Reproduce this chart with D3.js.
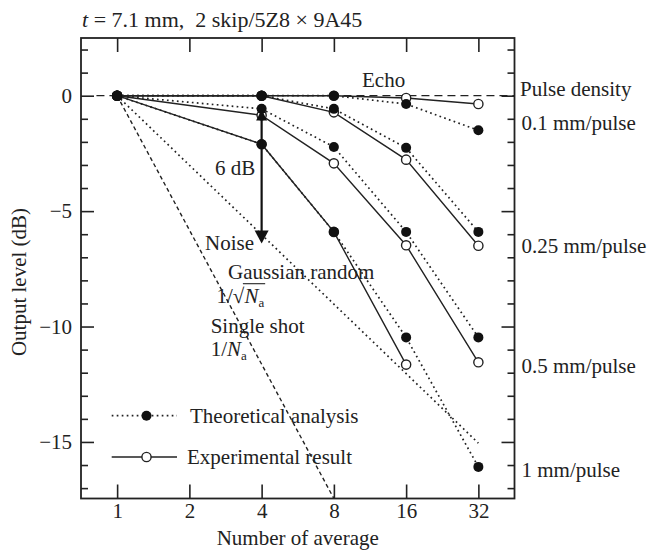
<!DOCTYPE html>
<html>
<head>
<meta charset="utf-8">
<script src="https://cdn.jsdelivr.net/npm/d3@7"></script>
<style>
  html, body { margin: 0; padding: 0; background: #fff; }
  svg { display: block; }
  text { font-family: "Liberation Serif", "Times New Roman", serif; fill: #222; }
</style>
</head>
<body>
<svg id="chart" width="651" height="551"></svg>
<script>
// ---------------- data ----------------
const counts = [1, 4, 8, 16, 32];                 // number of average
const xTickValues = [1, 2, 4, 8, 16, 32];
const yLabelValues = [0, -5, -10, -15];
const densityLabels = ["0.1 mm/pulse", "0.25 mm/pulse", "0.5 mm/pulse", "1 mm/pulse"];
const densityLabelLevels = [-1.5, -6.8, -12, -16.5];   // dB level of each right-hand label baseline

// Theoretical analysis (dotted, filled markers), dB
const theo01  = [0, 0, 0, -0.36, -1.5];
const theo025 = [0, 0, -0.57, -2.26, -5.9];
const theo05  = [0, -0.57, -2.22, -5.9, -10.47];
const theo1   = [0, -2.1, -5.9, -10.47, -16.08];
// Experimental result (solid, open markers), dB
const exp01  = [0, 0, 0, -0.1, -0.36];
const exp025 = [0, 0, -0.72, -2.77, -6.5];
const exp05  = [0, -0.85, -2.93, -6.48, -11.55];
const exp1   = [0, -2.1, -5.9, -11.65, null];

// Reference curves
const gaussianN = [1, 32], gaussianDB = [0, -15.05];   // 1/sqrt(Na)
const singleN = [1, 8],   singleDB = [0, -17.45];      // 1/Na
const echoN = [0.82, 32 * Math.SQRT2], echoDB = [0, 0];

// ---------------- scales ----------------
const svg = d3.select("#chart");
const L = 81, R = 514.5, T = 38, B = 498.5;
const x = d3.scaleLog().base(2).domain([Math.SQRT1_2, 32 * Math.SQRT2]).range([L, R]);
const y = d3.scaleLinear().domain([-17.45, 2.5]).range([B, T]);

svg.append("defs").append("clipPath").attr("id", "clip")
  .append("rect").attr("x", L).attr("y", T).attr("width", R - L).attr("height", B - T);

// ---------------- axes / frame ----------------
const minorY = d3.range(-17, 3).filter(v => v % 5 !== 0);
const majorY = d3.range(-15, 3).filter(v => v % 5 === 0);

function noDomain(g) { g.select(".domain").remove(); g.selectAll(".tick line").attr("stroke", "#222").attr("stroke-width", 1.6); }

svg.append("g").attr("transform", `translate(${L},0)`)
  .call(d3.axisRight(y).tickValues(minorY).tickSize(7).tickFormat("")).call(noDomain);
svg.append("g").attr("transform", `translate(${L},0)`)
  .call(d3.axisRight(y).tickValues(majorY).tickSize(13).tickFormat("")).call(noDomain);
svg.append("g").attr("transform", `translate(${R},0)`)
  .call(d3.axisLeft(y).tickValues(minorY).tickSize(7).tickFormat("")).call(noDomain);
svg.append("g").attr("transform", `translate(${R},0)`)
  .call(d3.axisLeft(y).tickValues(majorY).tickSize(13).tickFormat("")).call(noDomain);

const yLab = svg.append("g").attr("transform", `translate(${L},0)`)
  .call(d3.axisLeft(y).tickValues(yLabelValues).tickSize(0).tickPadding(9)
    .tickFormat(d => d === 0 ? "0" : "\u2212" + Math.abs(d)));
yLab.select(".domain").remove();
yLab.selectAll("text").attr("font-size", 21).attr("font-family", "Liberation Serif").attr("fill", "#222");

svg.append("g").attr("transform", `translate(0,${B})`)
  .call(d3.axisTop(x).tickValues(xTickValues).tickSize(14).tickFormat("")).call(noDomain);
svg.append("g").attr("transform", `translate(0,${T})`)
  .call(d3.axisBottom(x).tickValues(xTickValues).tickSize(14).tickFormat("")).call(noDomain);
const xLab = svg.append("g").attr("transform", `translate(0,${B})`)
  .call(d3.axisBottom(x).tickValues(xTickValues).tickSize(0).tickPadding(5).tickFormat(d3.format("d")));
xLab.select(".domain").remove();
xLab.selectAll("text").attr("font-size", 21).attr("font-family", "Liberation Serif").attr("fill", "#222");

svg.append("rect").attr("x", L).attr("y", T).attr("width", R - L).attr("height", B - T)
  .attr("fill", "none").attr("stroke", "#222").attr("stroke-width", 1.8);

// ---------------- lines ----------------
const plot = svg.append("g").attr("clip-path", "url(#clip)");
const line = d3.line().defined(d => d[1] !== null).x(d => x(d[0])).y(d => y(d[1]));
const zipN = (ns, vs) => ns.map((n, i) => [n, vs[i]]);

const DOT = "1.7 3.3";
// echo line
plot.append("path").datum(zipN(echoN, echoDB)).attr("d", line)
  .attr("fill", "none").attr("stroke", "#222").attr("stroke-width", 1.3).attr("stroke-dasharray", "8 5");
// single shot
plot.append("path").datum(zipN(singleN, singleDB)).attr("d", line)
  .attr("fill", "none").attr("stroke", "#222").attr("stroke-width", 1.4).attr("stroke-dasharray", "4 3");
// gaussian
plot.append("path").datum(zipN(gaussianN, gaussianDB)).attr("d", line)
  .attr("fill", "none").attr("stroke", "#222").attr("stroke-width", 1.7).attr("stroke-dasharray", DOT);

const theoSeries = [theo01, theo025, theo05, theo1];
const expSeries = [exp01, exp025, exp05, exp1];

theoSeries.forEach(s => {
  plot.append("path").datum(zipN(counts, s)).attr("d", line)
    .attr("fill", "none").attr("stroke", "#222").attr("stroke-width", 1.7).attr("stroke-dasharray", DOT);
});
expSeries.forEach(s => {
  plot.append("path").datum(zipN(counts, s)).attr("d", line)
    .attr("fill", "none").attr("stroke", "#222").attr("stroke-width", 1.4);
});

// ---------------- markers ----------------
expSeries.forEach(s => {
  plot.selectAll(null).data(zipN(counts, s).filter(d => d[1] !== null)).enter().append("circle")
    .attr("cx", d => x(d[0])).attr("cy", d => y(d[1])).attr("r", 4.6)
    .attr("fill", "#fff").attr("stroke", "#222").attr("stroke-width", 1.4);
});
theoSeries.forEach(s => {
  plot.selectAll(null).data(zipN(counts, s)).enter().append("circle")
    .attr("cx", d => x(d[0])).attr("cy", d => y(d[1])).attr("r", 5)
    .attr("fill", "#111");
});

// ---------------- 6 dB arrow ----------------
const arrowN = 4, arrowTop = -0.6, arrowBottom = -6.4;
const ax = x(arrowN), ay1 = y(arrowTop), ay2 = y(arrowBottom);
svg.append("line").attr("x1", ax).attr("x2", ax).attr("y1", ay1 + 4).attr("y2", ay2 - 8)
  .attr("stroke", "#111").attr("stroke-width", 2.2);
svg.append("path").attr("d", `M${ax},${ay1} L${ax - 5.5},${ay1 + 11} L${ax + 5.5},${ay1 + 11} Z`).attr("fill", "#111");
svg.append("path").attr("d", `M${ax},${ay2} L${ax - 7},${ay2 - 13} L${ax + 7},${ay2 - 13} Z`).attr("fill", "#111");

// ---------------- legend ----------------
const FS = 21;
function legendRow(yy, dotted, filled, label) {
  svg.append("line").attr("x1", 111.7).attr("x2", 177).attr("y1", yy).attr("y2", yy)
    .attr("stroke", "#222").attr("stroke-width", dotted ? 1.7 : 1.4)
    .attr("stroke-dasharray", dotted ? DOT : null);
  svg.append("circle").attr("cx", 146.5).attr("cy", yy).attr("r", filled ? 5 : 4.6)
    .attr("fill", filled ? "#111" : "#fff").attr("stroke", filled ? "none" : "#222").attr("stroke-width", 1.4);
  svg.append("text").attr("x", filled ? 190 : 187).attr("y", yy + 7).attr("font-size", FS).text(label);
}
legendRow(415.7, true, true, "Theoretical analysis");
legendRow(457, false, false, "Experimental result");

// ---------------- texts ----------------
const title = svg.append("text").attr("x", 82).attr("y", 27).attr("font-size", 22).style("white-space", "pre");
title.append("tspan").attr("font-style", "italic").text("t");
title.append("tspan").text(" = 7.1 mm,  2 skip/5Z8 \u00d7 9A45");

svg.append("text").attr("x", 362).attr("y", 87).attr("font-size", FS).text("Echo");
svg.append("text").attr("x", 520).attr("y", 96).attr("font-size", FS).text("Pulse density");
densityLabels.forEach((t, i) => {
  svg.append("text").attr("x", 521.5).attr("y", y(densityLabelLevels[i]) + 0).attr("font-size", FS).text(t);
});

svg.append("text").attr("x", 215).attr("y", 175).attr("font-size", FS).text("6 dB");
svg.append("text").attr("x", 205).attr("y", 250).attr("font-size", FS).text("Noise");
svg.append("text").attr("x", 228).attr("y", 279).attr("font-size", FS).text("Gaussian random");

const sq = svg.append("text").attr("x", 216.5).attr("y", 302.7).attr("font-size", FS);
sq.append("tspan").text("1/\u221a");
sq.append("tspan").attr("font-style", "italic").text("N");
sq.append("tspan").attr("font-size", 13).attr("dy", 4).text("a");
{
  const node = sq.node();
  const xe = node.getEndPositionOfChar(4).x;
  const xr = node.getEndPositionOfChar(2).x;
  svg.append("line").attr("x1", xr - 1.5).attr("x2", xe + 1).attr("y1", 302.7 - 19).attr("y2", 302.7 - 19)
    .attr("stroke", "#222").attr("stroke-width", 1.1);
}

svg.append("text").attr("x", 210.7).attr("y", 333).attr("font-size", FS).text("Single shot");
const ss = svg.append("text").attr("x", 210.7).attr("y", 356).attr("font-size", FS);
ss.append("tspan").text("1/");
ss.append("tspan").attr("font-style", "italic").text("N");
ss.append("tspan").attr("font-size", 13).attr("dy", 4).text("a");

svg.append("text").attr("x", (L + R) / 2).attr("y", 545).attr("text-anchor", "middle").attr("font-size", FS)
  .text("Number of average");
svg.append("text").attr("transform", "translate(19,282) rotate(-90)").attr("text-anchor", "middle")
  .attr("dominant-baseline", "central").attr("font-size", FS).text("Output level (dB)");
</script>
</body>
</html>
